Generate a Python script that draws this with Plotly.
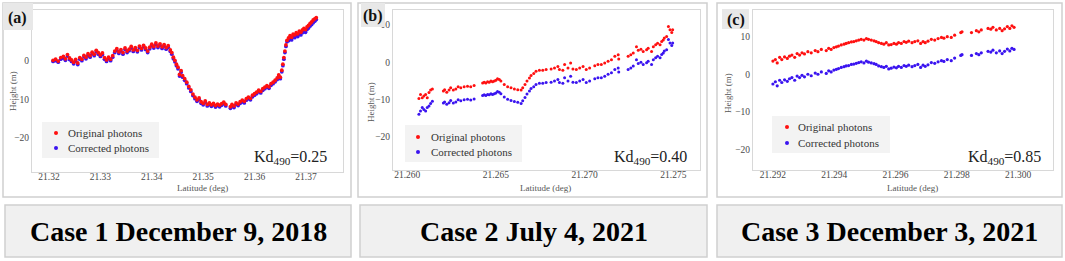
import plotly.graph_objects as go

# ---------------- data ----------------
# Case 1 (a)
lat_a = [21.3208, 21.3213, 21.3218, 21.3223, 21.3228, 21.3232, 21.3236, 21.3240, 21.3244, 21.3248,
         21.3252, 21.3256, 21.3260, 21.3264, 21.3268, 21.3272, 21.3276, 21.3280, 21.3284, 21.3288,
         21.3292, 21.3296, 21.3300, 21.3304, 21.3308, 21.3312, 21.3316, 21.3320, 21.3324, 21.3328,
         21.3332, 21.3336, 21.3340, 21.3344, 21.3348, 21.3352, 21.3356, 21.3360, 21.3364, 21.3368,
         21.3372, 21.3376, 21.3380, 21.3384, 21.3388, 21.3392, 21.3396, 21.3400, 21.3404, 21.3408,
         21.3412, 21.3416, 21.3420, 21.3424, 21.3428, 21.3432, 21.3436, 21.3439, 21.3442, 21.3445,
         21.3448, 21.3451, 21.3454, 21.3457, 21.3460, 21.3464, 21.3468, 21.3472, 21.3476, 21.3480,
         21.3484, 21.3488, 21.3492, 21.3496, 21.3500, 21.3504, 21.3508, 21.3512, 21.3516, 21.3520,
         21.3524, 21.3528, 21.3532, 21.3536, 21.3540, 21.3544, 21.3553, 21.3556, 21.3560, 21.3564,
         21.3568, 21.3572, 21.3576, 21.3580, 21.3584, 21.3588, 21.3592, 21.3596, 21.3600, 21.3604,
         21.3608, 21.3612, 21.3616, 21.3620, 21.3624, 21.3628, 21.3632, 21.3636, 21.3640, 21.3644,
         21.3647, 21.3650, 21.3653, 21.3655, 21.3657, 21.3659, 21.3661, 21.3663, 21.3666, 21.3669,
         21.3672, 21.3675, 21.3678, 21.3681, 21.3684, 21.3687, 21.3690, 21.3693, 21.3696, 21.3699,
         21.3702, 21.3705, 21.3708, 21.3711, 21.3714, 21.3717, 21.3720]
orig_a = [0.2, 0.5, 0.0, 0.9, 1.2, 0.6, 1.7, 0.8, 0.3, -0.3,
          0.4, -0.5, 0.9, 0.5, 1.5, 1.0, 1.9, 1.4, 2.3, 1.8,
          2.8, 2.2, 1.6, 2.1, 0.9, 0.3, 1.0, 0.5, 1.4, 2.6,
          3.2, 2.4, 3.0, 2.2, 3.4, 2.6, 3.1, 3.8, 2.9, 3.5,
          2.8, 3.9, 3.3, 4.1, 3.4, 2.6, 3.6, 4.4, 3.8, 4.7,
          3.9, 4.5, 3.7, 4.3, 3.5, 4.0, 2.9, 2.2, 1.0, 0.2,
          -0.8, -1.6, -3.5, -2.5, -3.8, -4.6, -5.5, -6.6, -7.5, -8.6,
          -9.4, -10.1, -9.6, -10.6, -11.0, -10.4, -11.3, -10.9, -11.4, -11.0,
          -11.6, -11.2, -11.5, -11.1, -10.7, -11.3, -11.9, -11.3, -11.7, -10.9,
          -11.2, -10.6, -10.2, -10.5, -9.8, -9.4, -9.7, -8.9, -8.5, -8.1,
          -7.6, -7.9, -7.2, -6.8, -6.4, -6.7, -5.9, -5.5, -5.0, -4.4,
          -3.6, -4.2, -2.4, -0.8, 0.9, 2.6, 4.2, 5.4, 6.0, 6.6,
          6.2, 7.0, 6.8, 7.4, 7.1, 7.8, 7.5, 8.1, 8.5, 8.2,
          8.9, 9.3, 9.8, 10.2, 10.7, 11.0, 11.3]
corr_a = [-0.1, 0.1, -0.3, 0.5, 0.8, 0.2, 1.3, 0.4, -0.1, -0.7,
          0.0, -0.9, 0.5, 0.1, 1.1, 0.6, 1.5, 1.0, 1.9, 1.4,
          2.4, 1.8, 1.2, 1.7, 0.5, -0.1, 0.6, 0.1, 1.0, 2.2,
          2.8, 2.0, 2.6, 1.8, 3.0, 2.2, 2.7, 3.4, 2.5, 3.1,
          2.4, 3.5, 2.9, 3.7, 3.0, 2.2, 3.2, 4.0, 3.4, 4.3,
          3.5, 4.1, 3.3, 3.9, 3.1, 3.6, 2.5, 1.8, 0.6, -0.2,
          -1.2, -2.0, -3.9, -2.9, -4.2, -5.0, -5.9, -7.0, -7.9, -9.0,
          -9.8, -10.5, -10.0, -11.0, -11.4, -10.8, -11.7, -11.3, -11.8, -11.4,
          -12.0, -11.6, -11.9, -11.5, -11.1, -11.7, -12.3, -11.7, -12.1, -11.3,
          -11.6, -11.0, -10.6, -10.9, -10.2, -9.8, -10.1, -9.3, -8.9, -8.5,
          -8.0, -8.3, -7.6, -7.2, -6.8, -7.1, -6.3, -5.9, -5.4, -4.8,
          -4.0, -4.6, -2.8, -1.2, 0.5, 2.2, 3.8, 5.0, 5.3, 5.9,
          5.5, 6.3, 6.1, 6.7, 6.4, 7.1, 6.8, 7.4, 7.8, 7.5,
          8.2, 8.6, 9.1, 9.5, 10.0, 10.4, 10.8]

# Case 2 (b)
lat_b = [21.26066, 21.26075, 21.26085, 21.26094, 21.26104, 21.26113, 21.26123, 21.26132, 21.26142,
         21.26204, 21.26211, 21.26223, 21.26236, 21.26245, 21.26260, 21.26274, 21.26287, 21.26302,
         21.26321, 21.26340, 21.26358, 21.26377,
         21.26425, 21.26434, 21.26443, 21.26453, 21.26462, 21.26472, 21.26481, 21.26491, 21.26500,
         21.26509, 21.26519, 21.26528,
         21.26547, 21.26566, 21.26585, 21.26604, 21.26623, 21.26642, 21.26651,
         21.26664, 21.26675, 21.26689, 21.26698, 21.26713, 21.26726, 21.26745,
         21.26764, 21.26783, 21.26811, 21.26830, 21.26849, 21.26858, 21.26877, 21.26887, 21.26906,
         21.26921, 21.26934, 21.26953, 21.26972, 21.26991, 21.27009, 21.27028, 21.27057, 21.27075,
         21.27094, 21.27113, 21.27132, 21.27151, 21.27170, 21.27189, 21.27192,
         21.27245, 21.27260, 21.27274, 21.27292, 21.27302, 21.27317, 21.27330, 21.27349, 21.27358,
         21.27377, 21.27387, 21.27400, 21.27411, 21.27425, 21.27434, 21.27443, 21.27449, 21.27462,
         21.27472, 21.27481, 21.27491, 21.27496]
orig_b = [-9.7, -8.6, -9.5, -9.0, -8.6, -9.5, -8.1, -7.4, -7.1,
          -7.7, -7.3, -8.0, -7.4, -6.8, -7.4, -7.1, -6.5, -6.8, -6.5, -6.4, -6.5, -6.2,
          -5.5, -5.3, -5.5, -5.2, -5.3, -5.0, -5.2, -5.0, -4.8, -4.4, -4.6, -5.0,
          -5.9, -6.5, -6.8, -7.1, -7.3, -7.4, -6.8,
          -5.9, -5.0, -4.2, -3.5, -3.0, -2.4, -2.1,
          -2.1, -1.9, -1.8, -1.5, -1.1, -1.9, -2.1, -0.6, -1.5, -0.2, -1.8, -1.9, -1.5,
          -1.1, -1.9, -1.5, -0.9, -0.6, -0.6, -0.2, 0.3, 0.7, 1.6, 2.0, 0.9,
          1.6, 2.0, 2.5, 4.2, 3.2, 3.5, 2.9, 3.4, 3.8, 2.9, 4.2, 4.7, 5.1, 4.7, 5.6, 6.0,
          6.5, 6.9, 9.6, 8.7, 8.0, 8.7]
corr_b = [-13.9, -13.0, -12.1, -12.6, -13.0, -12.1, -11.7, -11.0, -10.4,
          -10.9, -10.6, -11.2, -10.8, -10.2, -10.9, -10.6, -10.0, -10.3, -10.0, -9.9, -10.1, -9.8,
          -8.9, -8.7, -8.9, -8.6, -8.7, -8.4, -8.6, -8.4, -8.2, -7.8, -8.0, -8.4,
          -9.3, -9.9, -10.2, -10.5, -10.7, -11.0, -10.3,
          -9.4, -8.5, -7.7, -7.0, -6.5, -5.9, -5.6,
          -5.6, -5.4, -5.3, -5.0, -4.6, -5.4, -5.6, -4.1, -5.0, -3.7, -5.3, -5.4, -5.0,
          -4.6, -5.4, -5.0, -4.4, -4.1, -4.1, -3.7, -3.2, -2.8, -1.9, -1.5, -2.6,
          -1.9, -1.5, -1.0, 0.7, -0.3, 0.0, -0.6, -0.1, 0.3, -0.6, 0.7, 1.2, 1.6, 1.2, 2.1, 2.5,
          3.0, 3.4, 6.1, 5.2, 4.5, 5.2]

# Case 3 (c)
lat_c = [21.29200, 21.29208, 21.29214, 21.29222, 21.29229, 21.29238, 21.29247, 21.29254, 21.29262, 21.29271,
         21.29279, 21.29287, 21.29295, 21.29303, 21.29314, 21.29325, 21.29338, 21.29347, 21.29358, 21.29374,
         21.29382, 21.29390, 21.29399, 21.29407, 21.29414, 21.29423, 21.29432, 21.29439, 21.29447, 21.29456,
         21.29464, 21.29472, 21.29480, 21.29488, 21.29497, 21.29505, 21.29512, 21.29521, 21.29530, 21.29537,
         21.29545, 21.29554, 21.29562, 21.29570, 21.29578, 21.29586, 21.29595, 21.29603, 21.29610, 21.29619,
         21.29628, 21.29635, 21.29643, 21.29654, 21.29663, 21.29673, 21.29682, 21.29690, 21.29697, 21.29706,
         21.29717, 21.29728, 21.29739, 21.29750, 21.29758, 21.29769, 21.29782, 21.29793, 21.29813, 21.29817,
         21.29848, 21.29864, 21.29872, 21.29880, 21.29902, 21.29911, 21.29918, 21.29929, 21.29940, 21.29948,
         21.29956, 21.29965, 21.29973, 21.29980, 21.29987]
orig_c = [3.5, 3.9, 3.0, 4.5, 3.9, 4.6, 4.2, 4.8, 5.1, 4.5,
          5.5, 5.1, 5.7, 5.4, 6.0, 5.7, 6.3, 6.0, 6.6, 6.3,
          6.9, 6.6, 7.1, 7.3, 7.5, 7.8, 8.0, 8.2, 8.4, 8.6,
          8.7, 8.9, 9.1, 9.3, 9.1, 9.5, 9.3, 9.1, 8.9, 8.7,
          8.4, 8.2, 8.0, 8.4, 7.8, 7.9, 8.2, 8.0, 8.4, 8.2,
          8.7, 8.5, 8.8, 8.4, 8.7, 8.9, 8.2, 8.7, 8.4, 8.8,
          9.3, 9.1, 9.5, 9.8, 9.6, 10.0, 9.8, 10.4, 11.1, 11.3,
          11.1, 11.6, 11.3, 11.8, 12.2, 12.0, 12.5, 11.8, 12.2, 11.6,
          12.1, 12.7, 12.2, 12.9, 12.5]
corr_c = [-2.6, -2.0, -3.1, -1.6, -2.2, -1.5, -1.9, -1.2, -0.9, -1.6,
          -0.5, -0.9, -0.3, -0.7, 0.0, -0.4, 0.3, 0.0, 0.6, 0.2,
          0.9, 0.6, 1.1, 1.3, 1.5, 1.8, 2.0, 2.2, 2.3, 2.6,
          2.7, 2.9, 3.1, 3.3, 3.0, 3.5, 3.2, 3.0, 2.8, 2.6,
          2.2, 2.0, 1.8, 2.1, 1.4, 1.6, 1.9, 1.7, 2.1, 1.8,
          2.3, 2.1, 2.4, 2.0, 2.3, 2.6, 1.8, 2.4, 2.1, 2.5,
          3.1, 2.9, 3.3, 3.6, 3.4, 3.9, 3.6, 4.3, 5.0, 5.2,
          5.0, 5.5, 5.2, 5.7, 6.1, 5.9, 6.4, 5.7, 6.2, 5.5,
          6.1, 6.7, 6.2, 6.9, 6.6]

panel_letters = ["(a)", "(b)", "(c)"]
case_labels = ["Case 1 December 9, 2018", "Case 2 July 4, 2021", "Case 3 December 3, 2021"]
kd_values = ["0.25", "0.40", "0.85"]
series_names = ["Original photons", "Corrected photons"]
x_titles = "Latitude (deg)"
y_titles = "Height (m)"

# ---------------- layout helpers ----------------
W, H = 1065, 261
def fx(x):
    return x / W
def fy(y):
    return 1 - y / H

RED = "#ff1010"
BLUE = "#3a14f0"
SERIF = "Liberation Serif"

panels = [
    dict(lat=lat_a, o=orig_a, c=corr_a, plot=(32, 343, 10, 172), xr=[21.3167, 21.3772], yr=[-28.9, 13.3],
         xt=[21.32, 21.33, 21.34, 21.35, 21.36, 21.37], fmt=".2f", yt=[-20, -10, 0],
         frame=(3, 351, 3, 197), tag=(3, 33, 3, 30), leg=(42, 159, 122, 158), dots_x=56, dots_y=(133, 148),
         text_x=66, kd=(329, 157), ytitle=(13, 91), xtitle=(203, 188), ms=3.8),
    dict(lat=lat_b, o=orig_b, c=corr_b, plot=(393, 700, 10, 170), xr=[21.2592, 21.2765], yr=[-28.8, 14.0],
         xt=[21.260, 21.265, 21.270, 21.275], fmt=".3f", yt=[-20, -10, 0, 10],
         frame=(358, 707, 3, 197), tag=(361, 385, 3, 27), leg=(405, 522, 125, 162), dots_x=418, dots_y=(137, 152),
         text_x=429, kd=(689, 157), ytitle=(371, 102), xtitle=(545, 188), ms=3.0),
    dict(lat=lat_c, o=orig_c, c=corr_c, plot=(753, 1053, 10, 170), xr=[21.29135, 21.30114], yr=[-25.5, 17.1],
         xt=[21.292, 21.294, 21.296, 21.298, 21.300], fmt=".3f", yt=[-20, -10, 0, 10],
         frame=(717, 1062, 3, 197), tag=(722, 749, 9, 29), leg=(772, 890, 116, 153), dots_x=787, dots_y=(127, 143),
         text_x=796, kd=(1043, 157), ytitle=(728, 93), xtitle=(912, 188), ms=3.2),
]
boxes = [(5, 351), (360, 707), (717, 1062)]

fig = go.Figure()
shapes = []
annotations = []
layout_axes = {}

for i, p in enumerate(panels):
    n = "" if i == 0 else str(i + 1)
    xa, ya = "x" + n, "y" + n
    fig.add_trace(go.Scatter(x=p["lat"], y=p["c"], mode="markers", name=series_names[1],
                             marker=dict(color=BLUE, size=p["ms"]), xaxis=xa, yaxis=ya, showlegend=False))
    fig.add_trace(go.Scatter(x=p["lat"], y=p["o"], mode="markers", name=series_names[0],
                             marker=dict(color=RED, size=p["ms"]), xaxis=xa, yaxis=ya, showlegend=False))
    l, r, t, b = p["plot"]
    layout_axes["xaxis" + n] = dict(domain=[fx(l), fx(r)], range=p["xr"], anchor=ya, tickvals=p["xt"],
                                    tickformat=p["fmt"], showgrid=False, zeroline=False, showline=True,
                                    mirror=True, linecolor="#d8d8d8", linewidth=1, ticks="",
                                    ticklabelstandoff=-4,
                                    tickfont=dict(family=SERIF, size=9.5, color="#4a4a4a"))
    layout_axes["yaxis" + n] = dict(domain=[fy(b), fy(t)], range=p["yr"], anchor=xa, tickvals=p["yt"],
                                    showgrid=False, zeroline=False, showline=True, mirror=True,
                                    linecolor="#d8d8d8", linewidth=1, ticks="",
                                    tickfont=dict(family=SERIF, size=9.5, color="#4a4a4a"))
    # outer panel frame
    fl, fr, ft, fb = p["frame"]
    shapes.append(dict(type="rect", xref="paper", yref="paper", x0=fx(fl), x1=fx(fr), y0=fy(fb), y1=fy(ft),
                       line=dict(color="#d0d0d0", width=1.5), fillcolor="rgba(0,0,0,0)", layer="below"))
    # letter tag
    tl, tr, tt, tb = p["tag"]
    shapes.append(dict(type="rect", xref="paper", yref="paper", x0=fx(tl), x1=fx(tr), y0=fy(tb), y1=fy(tt),
                       line=dict(width=0), fillcolor="#e8e8e8", layer="above"))
    annotations.append(dict(xref="paper", yref="paper", x=fx((tl + tr) / 2), y=fy((tt + tb) / 2 + 1),
                            text="<b>" + panel_letters[i] + "</b>", showarrow=False,
                            font=dict(family=SERIF, size=16, color="#111"), xanchor="center", yanchor="middle"))
    # legend box
    ll, lr, lt, lb = p["leg"]
    shapes.append(dict(type="rect", xref="paper", yref="paper", x0=fx(ll), x1=fx(lr), y0=fy(lb), y1=fy(lt),
                       line=dict(width=0), fillcolor="#f3f3f3", layer="above"))
    for k, (col, name) in enumerate([(RED, series_names[0]), (BLUE, series_names[1])]):
        dy = p["dots_y"][k]
        shapes.append(dict(type="circle", xref="paper", yref="paper",
                           x0=fx(p["dots_x"] - 2), x1=fx(p["dots_x"] + 2), y0=fy(dy + 2), y1=fy(dy - 2),
                           line=dict(width=0), fillcolor=col, layer="above"))
        annotations.append(dict(xref="paper", yref="paper", x=fx(p["text_x"]), y=fy(dy), text=name,
                                showarrow=False, xanchor="left", yanchor="middle",
                                font=dict(family=SERIF, size=11, color="#333")))
    # Kd label
    annotations.append(dict(xref="paper", yref="paper", x=fx(p["kd"][0]), y=fy(p["kd"][1]),
                            text="Kd<sub>490</sub>=" + kd_values[i], showarrow=False,
                            xanchor="right", yanchor="middle", font=dict(family=SERIF, size=16, color="#222")))
    # axis titles
    annotations.append(dict(xref="paper", yref="paper", x=fx(p["ytitle"][0]), y=fy(p["ytitle"][1]),
                            text=y_titles, textangle=-90, showarrow=False, xanchor="center", yanchor="middle",
                            font=dict(family=SERIF, size=9, color="#555")))
    annotations.append(dict(xref="paper", yref="paper", x=fx(p["xtitle"][0]), y=fy(p["xtitle"][1]),
                            text=x_titles, showarrow=False, xanchor="center", yanchor="middle",
                            font=dict(family=SERIF, size=9, color="#555")))
    # bottom case box
    bl, br = boxes[i]
    shapes.append(dict(type="rect", xref="paper", yref="paper", x0=fx(bl), x1=fx(br), y0=fy(257), y1=fy(205),
                       line=dict(color="#cfcfcf", width=1.5), fillcolor="#f0f0f0", layer="below"))
    annotations.append(dict(xref="paper", yref="paper", x=fx((bl + br) / 2), y=fy(231),
                            text="<b>" + case_labels[i] + "</b>", showarrow=False,
                            xanchor="center", yanchor="middle",
                            font=dict(family=SERIF, size=28, color="#000")))

fig.update_layout(width=W, height=H, margin=dict(l=0, r=0, t=0, b=0),
                  paper_bgcolor="white", plot_bgcolor="white",
                  font=dict(family=SERIF),
                  shapes=shapes, annotations=annotations, showlegend=False, **layout_axes)

fig.write_html("out.html", config={"displayModeBar": False},
               post_script="document.body.style.margin='0';document.body.style.overflow='hidden';")
